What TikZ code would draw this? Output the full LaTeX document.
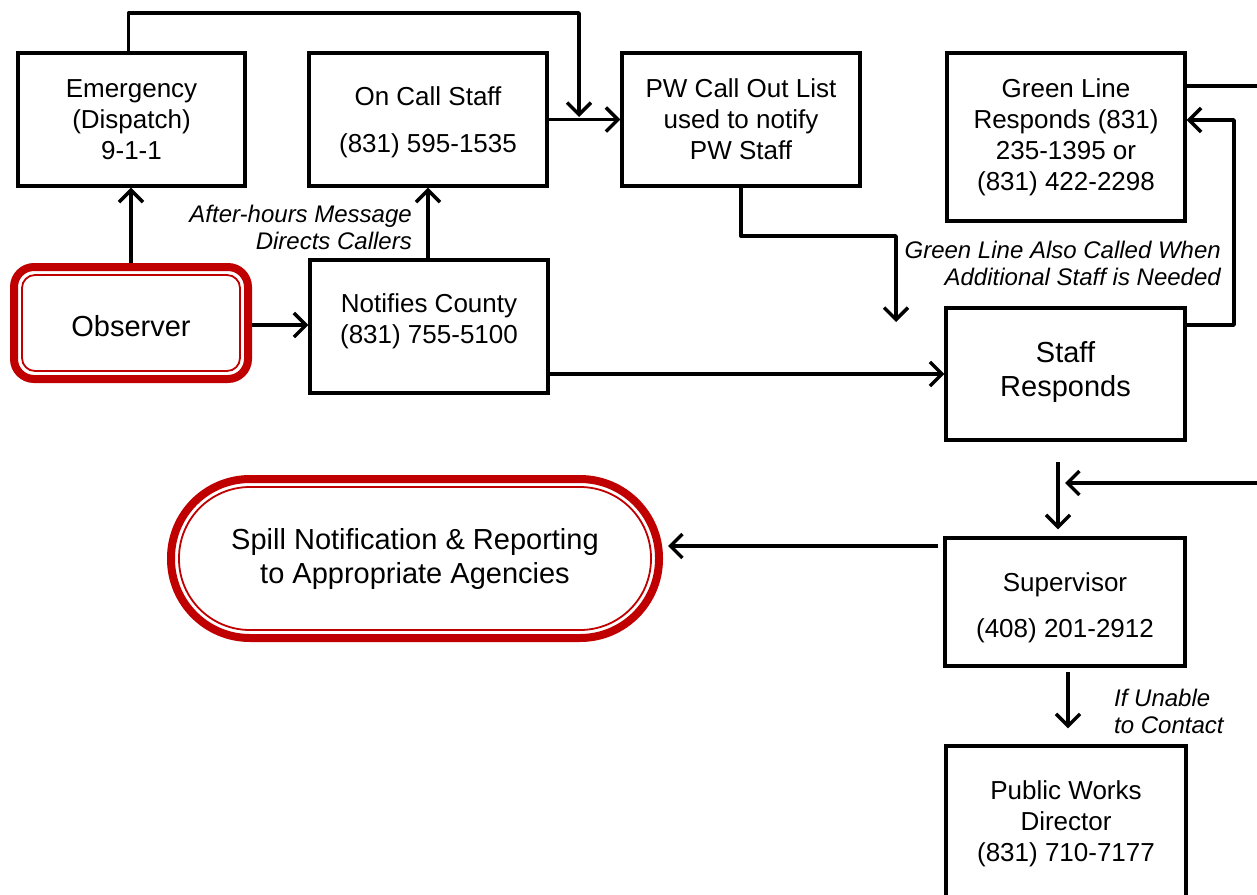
\documentclass[tikz,border=0pt]{standalone}
\usepackage{fontspec}
\setmainfont{Liberation Sans}
\usetikzlibrary{arrows.meta}
\definecolor{obsred}{RGB}{192,0,0}
\newcommand\fsA{\fontsize{26}{31}\selectfont}
\newcommand\fsB{\fontsize{29}{34}\selectfont}
\newcommand\fsC{\fontsize{24}{27}\selectfont\itshape}
\begin{document}
\begin{tikzpicture}[x=1pt,y=-1pt,
  box/.style={draw, line width=3.4pt, rectangle, inner sep=0pt, align=center, font=\fsA},
  txt/.style={inner sep=0pt, align=center, font=\fsA},
  lbl/.style={inner sep=0pt, font=\fsC},
  redbox/.style={draw=obsred, line width=8pt, inner sep=0pt, outer sep=0pt, align=center, font=\fsB},
  redin/.style={draw=obsred, line width=1.8pt},
  arr/.style={line width=3.4pt, line join=round, -{Straight Barb[length=12pt,width=24pt]}},
  plain/.style={line width=3.4pt, line join=round}]
\useasboundingbox (0,0) rectangle (1257,894);
\fill[white] (0,0) rectangle (1257,894);
\clip (0,0) rectangle (1257,894);

% boxes
\node[box, minimum width=227pt, minimum height=133pt] (emg) at (131.5,119.5) {Emergency\\(Dispatch)\\9-1-1};
\node[box, minimum width=238pt, minimum height=133pt] (ocs) at (428,119.5) {};
\node[txt] (ocsT) at (428,122.5) {On Call Staff\\[16pt](831) 595-1535};
\node[box, minimum width=238pt, minimum height=133pt] (pwc) at (741,119.5) {PW Call Out List\\used to notify\\PW Staff};
\node[box, minimum width=238pt, minimum height=168pt] (grn) at (1066,137) {Green Line\\Responds (831)\\235-1395 or\\(831) 422-2298};
\node[box, minimum width=238pt, minimum height=133pt] (ncy) at (429,326.5) {};
\node[txt] (ncyT) at (429,321.5) {Notifies County\\(831) 755-5100};
\node[box, minimum width=239pt, minimum height=132pt] (stf) at (1065.5,374) {};
\node[txt, font=\fsB] (stfT) at (1065.5,372) {Staff\\Responds};
\node[box, minimum width=240pt, minimum height=128pt] (sup) at (1065,602) {};
\node[txt] (supT) at (1065,608) {Supervisor\\[15pt](408) 201-2912};
\node[box, minimum width=240pt, minimum height=170pt] (pwd) at (1066,831) {};
\node[txt] (pwdT) at (1066,824) {Public Works\\Director\\(831) 710-7177};

% red terminals
\node[redbox, rounded corners=20pt, minimum width=234pt, minimum height=112pt] (obs) at (131,323) {};
\draw[redin, rounded corners=13pt] ([shift={(8,8)}]obs.north west) rectangle ([shift={(-8,-8)}]obs.south east);
\node[txt, font=\fsB] (obsT) at (131,326) {Observer};
\node[redbox, rounded corners=79pt, minimum width=488pt, minimum height=159pt] (spl) at (415,558.5) {Spill Notification \& Reporting\\to Appropriate Agencies};
\draw[redin, rounded corners=71pt] ([shift={(8,8)}]spl.north west) rectangle ([shift={(-8,-8)}]spl.south east);

% coordinates
\coordinate (tr) at (579,13);
\coordinate (tb) at (579,117);
\coordinate (p1) at (896,236);
\coordinate (p2) at (896,322);
\coordinate (sg) at (1234,120);
\coordinate (offR) at (1290,86);
\coordinate (in2) at (1290,483);
\coordinate (in2t) at (1065,483);
\coordinate (d1) at (1058,462);
\coordinate (oe) at ([yshift=-2pt]obs.east);
\coordinate (sw) at ([yshift=56pt]sup.west);

% connectors
\draw[arr, shorten <=4pt] (obs.north) -- (obs.north |- emg.south);
\draw[arr] ([xshift=-3pt]emg.north) |- (tr) -- (tb);
\draw[arr] (ocs.east) -- (pwc.west);
\draw[arr] (ocs.south |- ncy.north) -- (ocs.south);
\draw[arr, shorten <=4pt] (oe) -- (ncy.west |- oe);
\draw[arr] (ncy.east |- stf.west) -- (stf.west);
\draw[arr] (pwc.south) |- (p1) -- (p2);
\draw[arr] ([yshift=49pt]stf.east) -| (sg) -- (grn.east |- sg);
\draw[plain] ([yshift=51pt]grn.east) -- (offR);
\draw[arr] (in2) -- (in2t);
\draw[arr, shorten >=7pt] (d1) -- (d1 |- sup.north);
\draw[arr, shorten <=5pt, shorten >=9pt] (sw) -- (spl.east |- sw);
\draw[arr, shorten <=4pt, shorten >=16pt] ([xshift=3pt]sup.south) -- ([xshift=3pt]sup.south |- pwd.north);

% labels
\node[lbl, anchor=east, align=right] (l1) at (412,227) {After-hours Message\\Directs Callers};
\node[lbl, anchor=east, align=right] (l2) at (1221,263) {Green Line Also Called When\\Additional Staff is Needed};
\node[lbl, anchor=west, align=left] (l3) at (1114,711) {If Unable\\to Contact};
\end{tikzpicture}
\end{document}
